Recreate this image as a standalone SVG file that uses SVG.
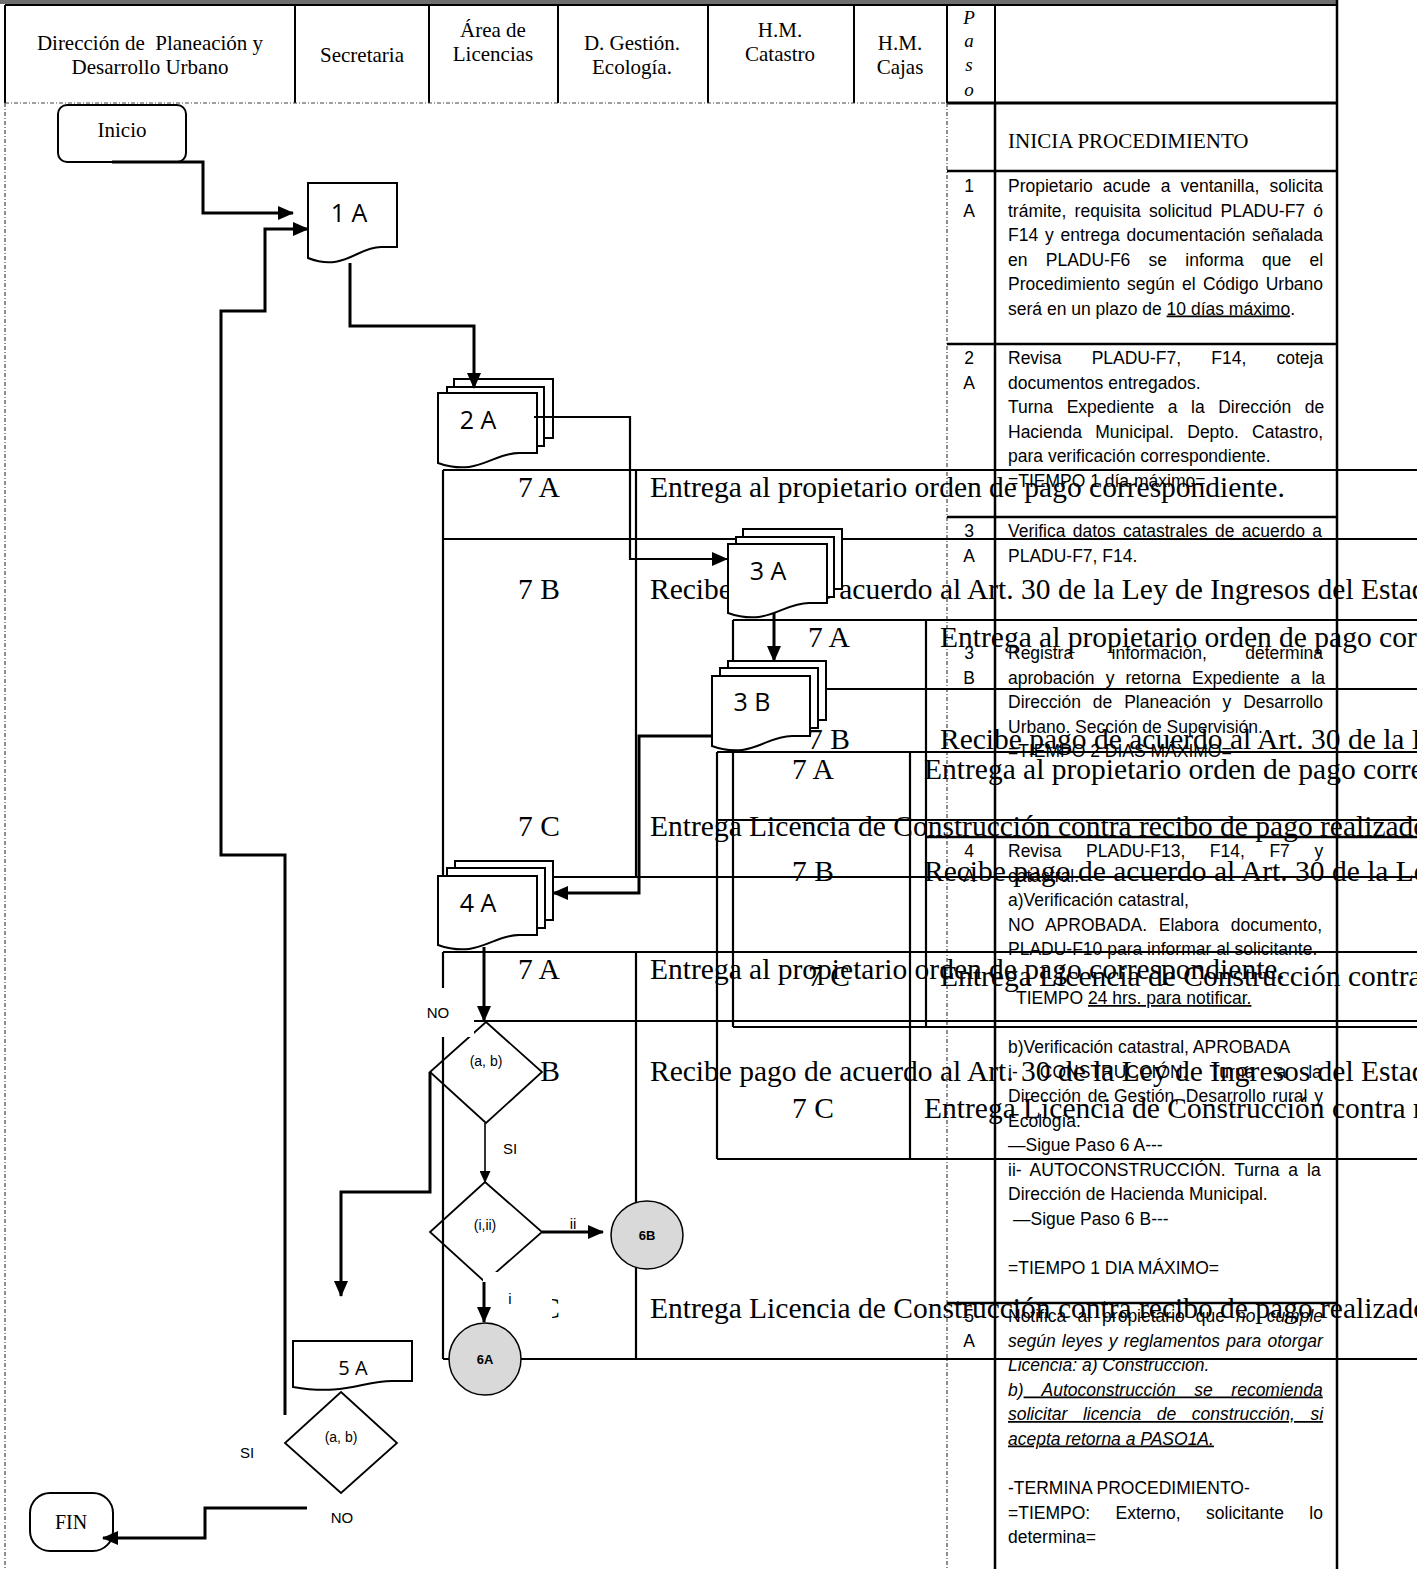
<svg xmlns="http://www.w3.org/2000/svg" width="1417" height="1569" viewBox="0 0 1417 1569">
<defs>
<marker id="ah" markerUnits="userSpaceOnUse" markerWidth="16" markerHeight="14" refX="15" refY="7" orient="auto"><path d="M0,0 L16,7 L0,14 Z" fill="#000"/></marker>
<marker id="ahs" markerUnits="userSpaceOnUse" markerWidth="12" markerHeight="11" refX="11" refY="5.5" orient="auto"><path d="M0,0 L12,5.5 L0,11 Z" fill="#000"/></marker>
<style>
.hl{fill:none;stroke:#000;stroke-width:2}
.dash{fill:none;stroke:#444;stroke-width:1.2;stroke-dasharray:4 2 1 2}
.rl{fill:none;stroke:#000;stroke-width:2.5}
.hd{font-family:"Liberation Serif",serif;font-size:21px;text-anchor:middle;fill:#000;white-space:pre}
.ps{font-family:"Liberation Serif",serif;font-size:19px;font-style:italic;text-anchor:middle}
.tt{font-family:"Liberation Serif",serif;font-size:29.5px;fill:#000}
.tc{text-anchor:middle}
.tl{fill:none;stroke:#000;stroke-width:2.2}
.rc{font-family:"Liberation Sans",Arial,sans-serif;font-size:17.5px;fill:#000}
.rn{text-anchor:middle}
.doc{fill:#fff;stroke:#000;stroke-width:2}
.dl{font-family:"Open Sans",sans-serif;font-size:25px;text-anchor:middle}
.dia{fill:#fff;stroke:#000;stroke-width:1.8}
.dt{font-family:"Liberation Sans",sans-serif;font-size:14px;text-anchor:middle}
.cir{fill:#d9d9d9;stroke:#000;stroke-width:1.5}
.ct{font-family:"Liberation Sans",sans-serif;font-size:13px;font-weight:bold;text-anchor:middle}
.term{fill:#fff;stroke:#000;stroke-width:2}
.tm{font-family:"Liberation Serif",serif;font-size:21px;text-anchor:middle}
.cn{fill:none;stroke:#000;stroke-width:3}
.cn2{fill:none;stroke:#000;stroke-width:2.2}
.cn3{fill:none;stroke:#000;stroke-width:1.6}
.lb{font-family:"Liberation Sans",sans-serif;font-size:15px;text-anchor:middle}
.u{text-decoration:underline}
.i{font-style:italic}
</style>
</defs>
<rect x="0" y="0" width="1337" height="4" fill="#6e6e6e"/>
<g id="header">
<path class="hl" d="M5,5 H1337 M5,5 V103 M295,5 V103 M429,5 V103 M558,5 V103 M708,5 V103 M854,5 V103 M947,5 V103 M995,5 V103"/>
<path class="rl" d="M947,103 H1337" style="stroke-width:3"/>
<text class="hd" x="150" y="50">Dirección de  Planeación y</text>
<text class="hd" x="150" y="74">Desarrollo Urbano</text>
<text class="hd" x="362" y="62">Secretaria</text>
<text class="hd" x="493" y="37">Área de</text>
<text class="hd" x="493" y="61">Licencias</text>
<text class="hd" x="632" y="50">D. Gestión.</text>
<text class="hd" x="632" y="74">Ecología.</text>
<text class="hd" x="780" y="37">H.M.</text>
<text class="hd" x="780" y="61">Catastro</text>
<text class="hd" x="900" y="50">H.M.</text>
<text class="hd" x="900" y="74">Cajas</text>
<text class="ps" x="969" y="24">P</text>
<text class="ps" x="969" y="47">a</text>
<text class="ps" x="969" y="71">s</text>
<text class="ps" x="969" y="96">o</text>
</g>
<g id="lanes">
<path class="dash" d="M5,103 H947 M5,103 V1569 M947,103 V1569"/>
<path class="rl" d="M995,103 V1569 M1337,0 V1569 M947,171 H1337 M947,344 H1337 M947,517 H1337 M947,1303 H1337 M926,837 H1417"/>
</g>
<g id="tables-text">
<g transform="translate(443,470)">
<text class="tt tc" x="96" y="27">7 A</text><text class="tt" x="207" y="27">Entrega al propietario orden de pago correspondiente.</text>
<text class="tt tc" x="96" y="129">7 B</text><text class="tt" x="207" y="129">Recibe pago de acuerdo al Art. 30 de la Ley de Ingresos del Estado</text>
<text class="tt tc" x="96" y="366">7 C</text><text class="tt" x="207" y="366">Entrega Licencia de Construcción contra recibo de pago realizado.</text>
</g>
<g transform="translate(443,952)">
<text class="tt tc" x="96" y="27">7 A</text><text class="tt" x="207" y="27">Entrega al propietario orden de pago correspondiente.</text>
<text class="tt tc" x="96" y="129">7 B</text><text class="tt" x="207" y="129">Recibe pago de acuerdo al Art. 30 de la Ley de Ingresos del Estado</text>
<text class="tt tc" x="96" y="366">7 C</text><text class="tt" x="207" y="366">Entrega Licencia de Construcción contra recibo de pago realizado.</text>
</g>
<g transform="translate(733,620)">
<text class="tt tc" x="96" y="27">7 A</text><text class="tt" x="207" y="27">Entrega al propietario orden de pago correspondiente.</text>
<text class="tt tc" x="96" y="129">7 B</text><text class="tt" x="207" y="129">Recibe pago de acuerdo al Art. 30 de la Ley de Ingresos del Estado</text>
<text class="tt tc" x="96" y="366">7 C</text><text class="tt" x="207" y="366">Entrega Licencia de Construcción contra recibo de pago realizado.</text>
</g>
<g transform="translate(717,752)">
<text class="tt tc" x="96" y="27">7 A</text><text class="tt" x="207" y="27">Entrega al propietario orden de pago correspondiente.</text>
<text class="tt tc" x="96" y="129">7 B</text><text class="tt" x="207" y="129">Recibe pago de acuerdo al Art. 30 de la Ley de Ingresos del Estado</text>
<text class="tt tc" x="96" y="366">7 C</text><text class="tt" x="207" y="366">Entrega Licencia de Construcción contra recibo de pago realizado.</text>
</g>
</g>
<g id="d1"><polygon class="dia" points="486,1022 542,1072 486,1123 430,1072"/><text class="dt" x="486" y="1066">(a, b)</text></g>
<g id="d2"><polygon class="dia" points="485,1182 542,1232 485,1282 430,1232"/><text class="dt" x="485" y="1230">(i,ii)</text></g>
<g id="d3"><polygon class="dia" points="341,1392 397,1443 341,1493 285,1443"/><text class="dt" x="341" y="1442">(a, b)</text></g>
<g id="tables-lines">
<path class="tl" d="M443,470 H1420 M443,539 H1420 M443,877 H1420 M443,470 V877 M636,470 V877"/>
<path class="tl" d="M443,952 H1420 M443,1021 H1420 M443,1359 H1420 M443,952 V1359 M636,952 V1359"/>
<path class="tl" d="M733,620 H1420 M733,689 H1420 M733,1027 H1420 M733,620 V1027 M926,620 V1027"/>
<path class="tl" d="M717,752 H1420 M717,820 H1420 M717,1159 H1420 M717,752 V1159 M910,752 V1159"/>
</g>
<g id="inicio"><rect class="term" x="58" y="105" width="128" height="57" rx="9"/><text class="tm" x="122" y="137">Inicio</text></g>
<g id="n1A"><path class="doc" d="M308,183 H397 V247 H381 C357,247 344,272 308,258 Z"/><text class="dl" x="349" y="222">1 A</text></g>
<g id="n2A"><rect class="doc" x="454" y="379" width="99" height="59"/><rect class="doc" x="447" y="387" width="97" height="59"/><path class="doc" d="M438,393 H537 V453 H519 C492,453 478,477 438,463 Z"/><text class="dl" x="478" y="429">2 A</text></g>
<g id="n3A"><rect class="doc" x="743" y="529" width="99" height="60"/><rect class="doc" x="736" y="537" width="98" height="60"/><path class="doc" d="M728,544 H827 V603 H809 C782,603 768,627 728,613 Z"/><text class="dl" x="768" y="580">3 A</text></g>
<g id="n3B"><rect class="doc" x="728" y="661" width="98" height="59"/><rect class="doc" x="720" y="668" width="98" height="60"/><path class="doc" d="M712,676 H810 V736 H792 C765,736 751,760 712,746 Z"/><text class="dl" x="752" y="711">3 B</text></g>
<g id="n4A"><rect class="doc" x="455" y="861" width="98" height="59"/><rect class="doc" x="447" y="868" width="98" height="60"/><path class="doc" d="M438,876 H537 V935 H519 C492,935 478,959 438,945 Z"/><text class="dl" x="478" y="912">4 A</text></g>
<g id="n5A"><path class="doc" d="M293,1341 H412 V1381 H392 C362,1381 345,1396 293,1387 Z"/><text class="dl" x="353" y="1375" style="font-size:20px">5 A</text></g>
<g id="n6A"><ellipse class="cir" cx="485" cy="1359" rx="36" ry="36"/><text class="ct" x="485" y="1364">6A</text></g>
<g id="n6B"><ellipse class="cir" cx="647" cy="1235" rx="36" ry="34"/><text class="ct" x="647" y="1240">6B</text></g>
<g id="fin"><rect class="term" x="30" y="1493" width="83" height="58" rx="20"/><text class="tm" x="71" y="1529" style="font-size:20px">FIN</text></g>
<g id="steps">
<text x="1008" y="148" style="font-family:'Liberation Serif',serif;font-size:21px">INICIA PROCEDIMIENTO</text>
<g class="rc">
<text class="rn" x="969" y="192">1</text><text class="rn" x="969" y="216.5">A</text>
<text x="1008" y="192" style="word-spacing:5.3px">Propietario acude a ventanilla, solicita</text>
<text x="1008" y="216.5" style="word-spacing:3.4px">trámite, requisita solicitud PLADU-F7 ó</text>
<text x="1008" y="241" style="word-spacing:1.9px">F14 y entrega documentación señalada</text>
<text x="1008" y="265.5" style="word-spacing:13.4px">en PLADU-F6 se informa que el</text>
<text x="1008" y="290" style="word-spacing:2.4px">Procedimiento según el Código Urbano</text>
<text x="1008" y="314.5">será en un plazo de <tspan class="u">10 días máximo</tspan>.</text>
<text class="rn" x="969" y="364">2</text><text class="rn" x="969" y="388.5">A</text>
<text x="1008" y="364" style="word-spacing:25.3px">Revisa PLADU-F7, F14, coteja</text>
<text x="1008" y="388.5">documentos entregados.</text>
<text x="1008" y="413" style="word-spacing:8.7px">Turna Expediente a la Dirección de</text>
<text x="1008" y="437.5" style="word-spacing:8.4px">Hacienda Municipal. Depto. Catastro,</text>
<text x="1008" y="462">para verificación correspondiente.</text>
<text x="1008" y="486.5">=TIEMPO 1 día máximo=</text>
<text class="rn" x="969" y="537">3</text><text class="rn" x="969" y="561.5">A</text>
<text x="1008" y="537" style="word-spacing:2.5px">Verifica datos catastrales de acuerdo a</text>
<text x="1008" y="561.5">PLADU-F7, F14.</text>
<text class="rn" x="969" y="659">3</text><text class="rn" x="969" y="683.5">B</text>
<text x="1008" y="659" style="word-spacing:33.5px">Registra información, determina</text>
<text x="1008" y="683.5" style="word-spacing:6.2px">aprobación y retorna Expediente a la</text>
<text x="1008" y="708" style="word-spacing:7px">Dirección de Planeación y Desarrollo</text>
<text x="1008" y="732.5">Urbano. Sección de Supervisión.</text>
<text x="1008" y="757">=TIEMPO 2 DIAS MÁXIMO=</text>
<text class="rn" x="969" y="857">4</text><text class="rn" x="969" y="881.5">A</text>
<text x="1008" y="857" style="word-spacing:19.7px">Revisa PLADU-F13, F14, F7 y</text>
<text x="1008" y="881.5">catastral.</text>
<text x="1008" y="906">a)Verificación catastral,</text>
<text x="1008" y="930.5" style="word-spacing:6.8px">NO APROBADA. Elabora documento,</text>
<text x="1008" y="955">PLADU-F10 para informar al solicitante.</text>
<text x="1016" y="1004">TIEMPO <tspan class="u">24 hrs. para notificar.</tspan></text>
<text x="1008" y="1053">b)Verificación catastral, APROBADA</text>
<text x="1008" y="1077.5" style="word-spacing:17.2px">i- CONSTRUCCIÓN. Turna a la</text>
<text x="1008" y="1102" style="word-spacing:1.9px">Dirección de Gestión, Desarrollo rural y</text>
<text x="1008" y="1126.5">Ecología.</text>
<text x="1008" y="1151">—Sigue Paso 6 A---</text>
<text x="1008" y="1175.5" style="word-spacing:4.1px">ii- AUTOCONSTRUCCIÓN. Turna a la</text>
<text x="1008" y="1200">Dirección de Hacienda Municipal.</text>
<text x="1013" y="1224.5">—Sigue Paso 6 B---</text>
<text x="1008" y="1273.5">=TIEMPO 1 DIA MÁXIMO=</text>
<text class="rn" x="969" y="1322">5</text><text class="rn" x="969" y="1346.5">A</text>
<text x="1008" y="1322" style="word-spacing:6.2px">Notifica al propietario que <tspan class="i">no cumple</tspan></text>
<text class="i" x="1008" y="1346.5" style="word-spacing:1.3px">según leyes y reglamentos para otorgar</text>
<text class="i" x="1008" y="1371">Licencia: a) Construcción.</text>
<text class="i" x="1008" y="1395.5" style="word-spacing:13.7px">b)<tspan class="u"> Autoconstrucción se recomienda</tspan></text>
<text class="i u" x="1008" y="1420" style="word-spacing:10.7px">solicitar licencia de construcción, si</text>
<text class="i u" x="1008" y="1444.5">acepta retorna a PASO1A.</text>
<text x="1008" y="1494">-TERMINA PROCEDIMIENTO-</text>
<text x="1008" y="1518.5" style="word-spacing:20.5px">=TIEMPO: Externo, solicitante lo</text>
<text x="1008" y="1543">determina=</text>
</g>
</g>
<g id="label-masks" fill="#fff">
<rect x="415" y="988" width="59" height="49"/>
<rect x="483" y="1272" width="69" height="48"/>
</g>
<g id="connectors">
<path class="cn" d="M112,162 H203 V213 H293" marker-end="url(#ah)"/>
<path class="cn" d="M285,1415 V855 H221 V311 H265 V229 H308" marker-end="url(#ah)"/>
<path class="cn" d="M350,263 V326 H474 V388" marker-end="url(#ah)"/>
<path class="cn2" d="M534,417 H630 V559 H727" marker-end="url(#ah)"/>
<path class="cn" d="M774,613 V661" marker-end="url(#ah)"/>
<path class="cn" d="M712,736 H639 V893 H553" marker-end="url(#ah)"/>
<path class="cn" d="M484,947 V1021" marker-end="url(#ah)"/>
<path class="cn" d="M430,1072 V1192 H341 V1296" marker-end="url(#ah)"/>
<path class="cn3" d="M485,1123 V1182" marker-end="url(#ahs)"/>
<path class="cn" d="M542,1232 H603" marker-end="url(#ah)"/>
<path class="cn" d="M484,1282 V1322" marker-end="url(#ah)"/>
<path class="cn" d="M307,1508 H205 V1538 H103" marker-end="url(#ah)"/>
</g>
<g id="labels">
<text class="lb" x="438" y="1018">NO</text>
<text class="lb" x="510" y="1154">SI</text>
<text class="lb" x="573" y="1229">ii</text>
<text class="lb" x="510" y="1304">i</text>
<text class="lb" x="247" y="1458">SI</text>
<text class="lb" x="342" y="1523">NO</text>
</g>
</svg>
